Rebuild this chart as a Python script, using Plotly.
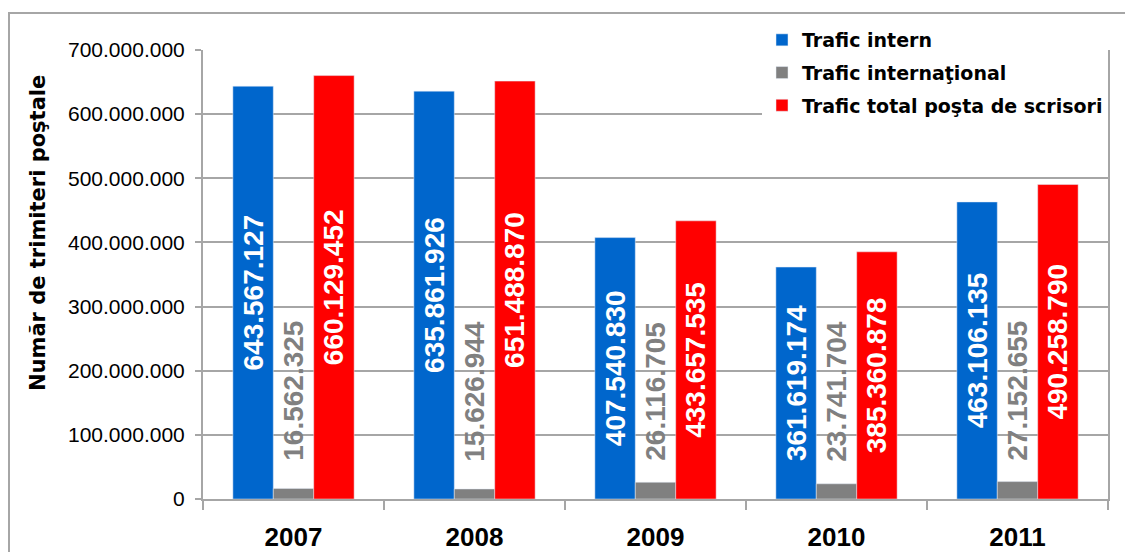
import plotly.graph_objects as go

years = ["2007", "2008", "2009", "2010", "2011"]
trafic_intern = [643567127, 635861926, 407540830, 361619174, 463106135]
trafic_international = [16562325, 15626944, 26116705, 23741704, 27152655]
trafic_total = [660129452, 651488870, 433657535, 385360878, 490258790]
series_names = ["Trafic intern", "Trafic internaţional", "Trafic total poşta de scrisori"]
y_title = "Număr de trimiteri poştale"

W, H = 1125, 552
ML, MR, MT, MB = 203, 17, 50, 53
PW, PH = W - ML - MR, H - MT - MB

def px_x(px):
    return (px - ML) / PW

def px_y(py):
    return (H - MB - py) / PH

BLUE, GRAY, RED = "#0066CC", "#808080", "#FF0000"
LINE = "#A6A6A6"
NUMFONT = "Liberation Sans, Arial, sans-serif"
WORDFONT = "DejaVu Sans, Verdana, sans-serif"

def fmt(v):
    return f"{v:,}".replace(",", ".")

fig = go.Figure()
fig.add_trace(go.Bar(
    x=years, y=trafic_intern, name=series_names[0], marker_color=BLUE,
    texttemplate="%{y:,d}", textposition="inside", insidetextanchor="middle",
    textangle=-90, textfont=dict(family=NUMFONT, size=28, color="white", weight="bold"),
    legendgroup="a", hoverinfo="skip"))
fig.add_trace(go.Bar(
    x=years, y=trafic_international, name=series_names[1], marker_color=GRAY,
    textposition="none", legendgroup="b", hoverinfo="skip"))
fig.add_trace(go.Bar(
    x=years, y=trafic_total, name=series_names[2], marker_color=RED,
    texttemplate="%{y:,d}", textposition="inside", insidetextanchor="middle",
    textangle=-90, textfont=dict(family=NUMFONT, size=28, color="white", weight="bold"),
    legendgroup="c", hoverinfo="skip"))

annotations = []
for i, v in enumerate(trafic_international):
    annotations.append(dict(
        x=i, y=168e6, xref="x", yref="y", text=fmt(v), showarrow=False,
        textangle=-90, font=dict(family=NUMFONT, size=28, color=GRAY, weight="bold"),
        xanchor="center", yanchor="middle"))
annotations.append(dict(
    x=px_x(38), y=px_y(233), xref="paper", yref="paper", text=y_title,
    showarrow=False, textangle=-90,
    font=dict(family=WORDFONT, size=21, color="black", weight="bold"),
    xanchor="center", yanchor="middle"))

fig.update_layout(
    width=W, height=H, autosize=False,
    margin=dict(l=ML, r=MR, t=MT, b=MB, pad=0, autoexpand=False),
    paper_bgcolor="white", plot_bgcolor="white",
    separators=",.",
    barmode="group", bargap=0.33, bargroupgap=0,
    showlegend=True,
    legend=dict(
        x=px_x(762), y=px_y(21), xanchor="left", yanchor="top",
        bgcolor="white", font=dict(family=WORDFONT, size=19, color="black", weight="bold"),
        tracegroupgap=5, traceorder="grouped"),
    annotations=annotations,
    shapes=[dict(type="rect", xref="paper", yref="paper",
                 x0=px_x(9), x1=px_x(1140), y0=px_y(570), y1=px_y(13),
                 line=dict(color=LINE, width=2), fillcolor="rgba(0,0,0,0)", layer="below")],
)

fig.update_xaxes(
    type="category", range=[-0.5, len(years) - 0.5], autorange=False, automargin=False,
    showline=True, linecolor=LINE, linewidth=2,
    ticks="outside", tickson="boundaries", ticklen=9, tickwidth=2, tickcolor=LINE,
    tickfont=dict(family=NUMFONT, size=26, color="black", weight="bold"),
    tickangle=0, ticklabelstandoff=14, showgrid=False, zeroline=False)
fig.update_yaxes(
    range=[0, 700e6], autorange=False, automargin=False, dtick=100e6, tick0=0, tickformat=",d",
    showline=True, mirror=True, linecolor=LINE, linewidth=2,
    ticks="outside", ticklen=6, tickwidth=2, tickcolor=LINE,
    tickfont=dict(family=NUMFONT, size=21, color="black"),
    ticklabelstandoff=6,
    showgrid=True, gridcolor=LINE, gridwidth=2, zeroline=False)

fig.write_html("out.html", config={"displayModeBar": False},
               post_script="document.body.style.margin='0';")
